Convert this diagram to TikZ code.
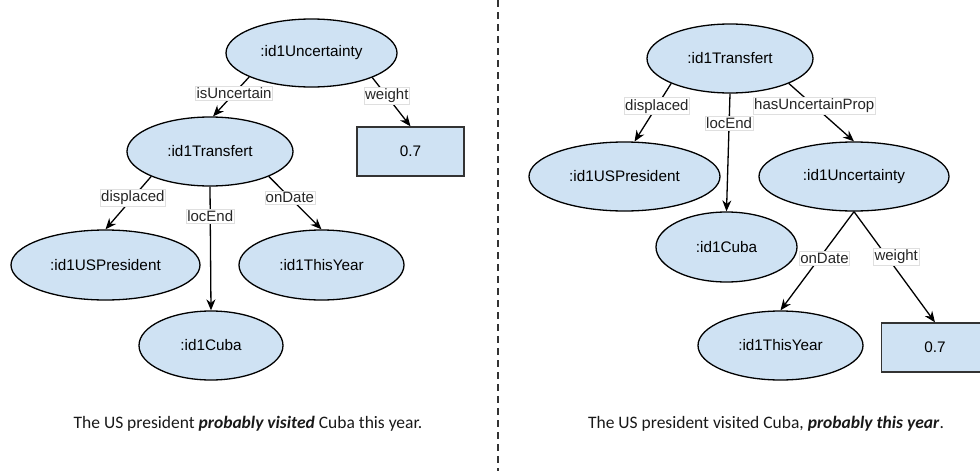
\documentclass[tikz,border=0pt]{standalone}
\usepackage{fontspec}
\setmainfont{Liberation Sans}
\newfontfamily\capfont{Carlito}
\usetikzlibrary{arrows.meta,shapes.geometric,calc}
\definecolor{nodefill}{HTML}{CFE2F3}
\definecolor{boxline}{HTML}{333333}
\begin{document}
\begin{tikzpicture}[x=1pt,y=-1pt,
  ent/.style={ellipse,draw=black,line width=1.3pt,fill=nodefill,inner sep=0pt,font=\fontsize{15.3}{17}\selectfont},
  valbox/.style={rectangle,draw=boxline,line width=1.3pt,fill=nodefill,inner sep=0pt,minimum width=107pt,minimum height=49pt,font=\fontsize{15.3}{17}\selectfont},
  rel/.style={-{Stealth[length=11pt,width=9pt]},line width=1.3pt,black},
  lbl/.style={fill=white,draw=gray!25,line width=0.4pt,inner xsep=1pt,inner ysep=1.5pt,font=\fontsize{15}{17}\selectfont,text=black!85},
  captext/.style={font=\capfont\fontsize{17.5}{20}\selectfont,text=black!90}]
\useasboundingbox (0,0) rectangle (980,471);
% separator
\draw[line width=1.8pt,boxline,dash pattern=on 7pt off 5pt] (498,0) -- (498,471);
% ---------- left diagram ----------
\node[ent,minimum width=171pt,minimum height=68pt] (uncL) at (311.5,53) {:id1Uncertainty};
\node[valbox] (boxL) at (410.5,151.5) {0.7};
\node[ent,minimum width=166pt,minimum height=69pt] (transL) at (210,151.5) {:id1Transfert};
\node[ent,minimum width=189pt,minimum height=70pt] (uspL) at (105.5,265) {:id1USPresident};
\node[ent,minimum width=165pt,minimum height=70pt] (yearL) at (321.5,265) {:id1ThisYear};
\node[ent,minimum width=144pt,minimum height=69pt] (cubaL) at (211,345.5) {:id1Cuba};
\draw[rel] (uncL.201.5) -- node[lbl,pos=0.42] {isUncertain} (transL.85);
\draw[rel] (uncL.-22.9) -- node[lbl,pos=0.38] {weight} (boxL.north);
\draw[rel] (transL.203.7) -- node[lbl,pos=0.40] {displaced} (uspL.north);
\draw[rel] (transL.south) -- node[lbl,pos=0.24] {locEnd} (cubaL.north);
\draw[rel] (transL.-23.4) -- node[lbl,pos=0.40] {onDate} (yearL.north);
\node[captext] (capL) at (248,424) {The US president \textbf{\textit{probably visited}} Cuba this year.};
% ---------- right diagram ----------
\node[ent,minimum width=166pt,minimum height=69pt] (transR) at (730,58.5) {:id1Transfert};
\node[ent,minimum width=191pt,minimum height=69pt] (uspR) at (624.5,176.5) {:id1USPresident};
\node[ent,minimum width=190pt,minimum height=69pt] (uncR) at (854,176.5) {:id1Uncertainty};
\node[ent,minimum width=141pt,minimum height=70pt] (cubaR) at (726.5,247) {:id1Cuba};
\node[ent,minimum width=165pt,minimum height=69pt] (yearR) at (780.5,345.5) {:id1ThisYear};
\node[valbox] (boxR) at (935,347.5) {0.7};
\draw[rel] (transR.203.8) -- node[lbl,pos=0.39] {displaced} (uspR.74.6);
\draw[rel] (transR.south) -- node[lbl,pos=0.25] {locEnd} (cubaR.north);
\draw[rel] (transR.-23.4) -- node[lbl,pos=0.39] {hasUncertainProp} (uncR.north);
\draw[rel] (uncR.south) -- node[lbl,pos=0.47,xshift=5pt] {onDate} (yearR.north);
\draw[rel] (uncR.south) -- node[lbl,pos=0.41,xshift=9pt] {weight} (boxR.north);
\node[captext] (capR) at (766,424) {The US president visited Cuba, \textbf{\textit{probably this year}}.};
\end{tikzpicture}
\end{document}
